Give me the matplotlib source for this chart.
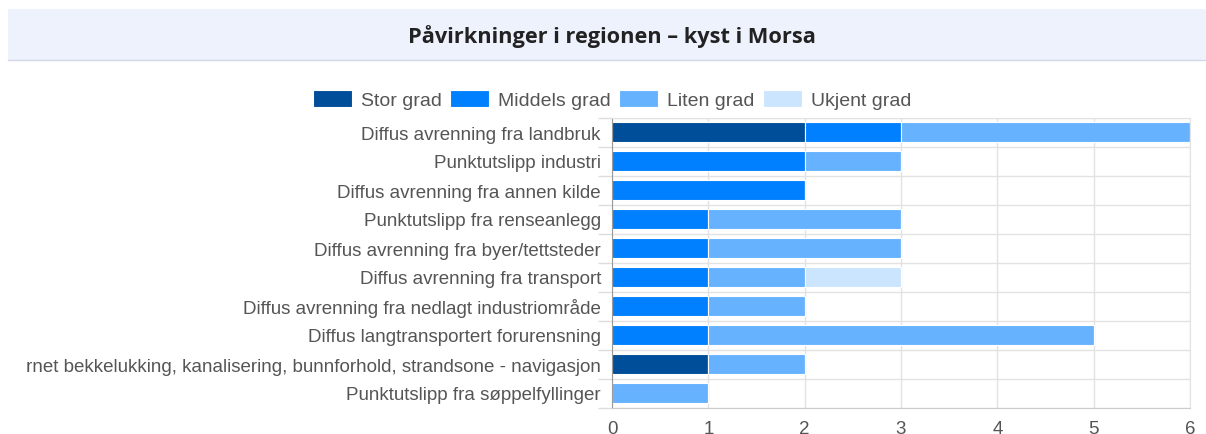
import matplotlib.pyplot as plt
from matplotlib.patches import Rectangle
import numpy as np

categories = [
    "Diffus avrenning fra landbruk",
    "Punktutslipp industri",
    "Diffus avrenning fra annen kilde",
    "Punktutslipp fra renseanlegg",
    "Diffus avrenning fra byer/tettsteder",
    "Diffus avrenning fra transport",
    "Diffus avrenning fra nedlagt industriområde",
    "Diffus langtransportert forurensning",
    "Fysiske endringer - fjernet bekkelukking, kanalisering, bunnforhold, strandsone - navigasjon",
    "Punktutslipp fra søppelfyllinger",
]
series_names = ["Stor grad", "Middels grad", "Liten grad", "Ukjent grad"]
stor = [2, 0, 0, 0, 0, 0, 0, 0, 1, 0]
middels = [1, 2, 2, 1, 1, 1, 1, 1, 0, 0]
liten = [3, 1, 0, 2, 2, 1, 1, 4, 1, 1]
ukjent = [0, 0, 0, 0, 0, 1, 0, 0, 0, 0]
x_ticks = [0, 1, 2, 3, 4, 5, 6]

colors = ["#004d99", "#0080ff", "#66b2ff", "#cce5ff"]
plt.rcParams["font.family"] = ["Liberation Sans", "DejaVu Sans"]

W, H = 1206, 435
fig = plt.figure(figsize=(W / 100, H / 100), dpi=100)

# title band
fig.patches.append(Rectangle((8 / W, 1 - 61 / H), 1 - 8 / W, 51 / H,
                             transform=fig.transFigure, facecolor="#eef2fd",
                             edgecolor="none", zorder=0))
fig.lines.append(plt.Line2D([8 / W, 1], [1 - 61 / H, 1 - 61 / H],
                            transform=fig.transFigure, color="#d3d8e6", lw=1))
fig.text(612 / W, 1 - 37 / H, "Påvirkninger i regionen – kyst i Morsa",
         ha="center", va="center", fontsize=15.7, fontweight="bold",
         color="#222222", family=["Open Sans", "DejaVu Sans"])

ax = fig.add_axes([612 / W, 1 - 408.5 / H, 578 / W, 290 / H])
y = np.arange(len(categories))
left = np.zeros(len(categories))
for name, vals, c in zip(series_names, [stor, middels, liten, ukjent], colors):
    vals = np.array(vals, dtype=float)
    ax.barh(y, vals, left=left, height=0.72, color=c, edgecolor="white",
            linewidth=0.8, label=name, zorder=2)
    left += vals

ax.set_ylim(len(categories) - 0.5, -0.5)
ax.set_xlim(0, 6)
ax.set_xticks(x_ticks)
ax.set_yticks(y)
ax.set_yticklabels(categories)
ax.set_yticks(np.arange(len(categories) + 1) - 0.5, minor=True)
ax.tick_params(axis="y", which="major", length=0, pad=8, labelsize=13.5,
               labelcolor="#555555")
ax.tick_params(axis="y", which="minor", length=10, color="#dddddd", width=1)
ax.tick_params(axis="x", length=0, pad=9, labelsize=13.5, labelcolor="#555555")
ax.grid(axis="x", color="#e2e2e2", lw=1, zorder=0)
ax.grid(axis="y", which="minor", color="#e2e2e2", lw=1, zorder=0)
for s in ["top", "right"]:
    ax.spines[s].set_color("#e2e2e2")
ax.spines["bottom"].set_color("#cccccc")
ax.spines["left"].set_color("#999999")

# the long label is clipped at the left edge, as in the original
clip = Rectangle((27 / W, 0), 1, 1, transform=fig.transFigure,
                 facecolor="none", edgecolor="none")
for t in ax.get_yticklabels():
    t.set_clip_path(clip)

ax.legend(loc="lower center", bbox_to_anchor=(612 / W, 1 - 110 / H),
          bbox_transform=fig.transFigure,
          ncol=4, frameon=False, fontsize=14, handlelength=2.0,
          handleheight=0.95, columnspacing=0.45, handletextpad=0.45,
          labelcolor="#555555", borderpad=0, borderaxespad=0)

fig.savefig("out.png", dpi=100)
